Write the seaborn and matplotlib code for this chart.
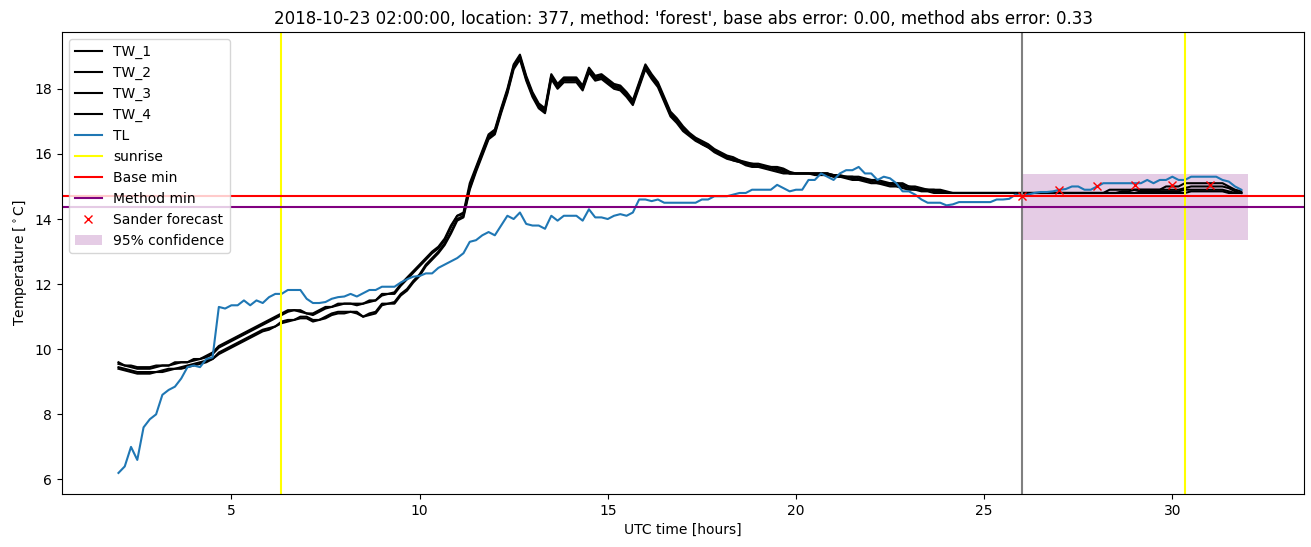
import numpy as np
import pandas as pd
import matplotlib
matplotlib.use("Agg")
import matplotlib.pyplot as plt
import seaborn as sns

# ---------------- data (10-minute samples from 02:00) ----------------
TL = [
    6.2, 6.4, 7.0, 6.6, 7.6, 7.85,
    8.0, 8.6, 8.75, 8.85, 9.1, 9.45,
    9.5, 9.45, 9.7, 9.75, 11.3, 11.25,
    11.35, 11.35, 11.5, 11.35, 11.5, 11.42,
    11.6, 11.7, 11.7, 11.82, 11.82, 11.82,
    11.55, 11.42, 11.42, 11.45, 11.55, 11.6,
    11.62, 11.7, 11.62, 11.72, 11.82, 11.82,
    11.92, 11.92, 11.92, 12.05, 12.15, 12.23,
    12.25, 12.33, 12.33, 12.5, 12.6, 12.7,
    12.8, 12.95, 13.3, 13.35, 13.5, 13.6,
    13.5, 13.8, 14.1, 14.0, 14.2, 13.85,
    13.8, 13.8, 13.7, 14.1, 13.95, 14.1,
    14.1, 14.1, 13.95, 14.3, 14.05, 14.05,
    14.0, 14.1, 14.15, 14.1, 14.2, 14.6,
    14.6, 14.55, 14.6, 14.5, 14.5, 14.5,
    14.5, 14.5, 14.5, 14.6, 14.6, 14.7,
    14.7, 14.7, 14.75, 14.8, 14.8, 14.9,
    14.9, 14.9, 14.9, 15.05, 14.95, 14.85,
    14.9, 14.9, 15.2, 15.2, 15.4, 15.3,
    15.2, 15.4, 15.5, 15.5, 15.6, 15.4,
    15.4, 15.2, 15.3, 15.25, 15.1, 14.85,
    14.85, 14.75, 14.6, 14.5, 14.5, 14.5,
    14.42, 14.45, 14.52, 14.52, 14.52, 14.52,
    14.52, 14.52, 14.6, 14.6, 14.62, 14.75,
    14.7, 14.75, 14.8, 14.83, 14.83, 14.85,
    14.9, 14.92, 15.0, 15.0, 14.9, 14.9,
    15.0, 15.1, 15.1, 15.1, 15.1, 15.1,
    15.1, 15.1, 15.2, 15.1, 15.2, 15.2,
    15.3, 15.2, 15.2, 15.3, 15.3, 15.3,
    15.3, 15.3, 15.2, 15.15, 15.0, 14.9,
]

TW_1 = [
    9.6, 9.5, 9.5, 9.45, 9.45, 9.45,
    9.5, 9.5, 9.5, 9.6, 9.6, 9.6,
    9.7, 9.7, 9.8, 9.9, 10.1, 10.2,
    10.3, 10.4, 10.5, 10.6, 10.7, 10.8,
    10.9, 11.0, 11.1, 11.2, 11.2, 11.2,
    11.1, 11.1, 11.2, 11.3, 11.3, 11.4,
    11.4, 11.4, 11.4, 11.4, 11.5, 11.5,
    11.7, 11.7, 11.75, 12.0, 12.2, 12.4,
    12.6, 12.8, 13.0, 13.15, 13.4, 13.8,
    14.1, 14.2, 15.1, 15.6, 16.1, 16.6,
    16.75, 17.4, 18.0, 18.75, 19.05, 18.4,
    17.9, 17.55, 17.4, 18.45, 18.15, 18.35,
    18.35, 18.35, 18.1, 18.65, 18.4, 18.45,
    18.3, 18.15, 18.1, 17.9, 17.65, 18.2,
    18.75, 18.45, 18.2, 17.75, 17.3, 17.1,
    16.85, 16.65, 16.5, 16.4, 16.3, 16.15,
    16.05, 15.95, 15.9, 15.8, 15.75, 15.7,
    15.7, 15.65, 15.6, 15.6, 15.55, 15.45,
    15.4, 15.4, 15.4, 15.4, 15.4, 15.4,
    15.35, 15.35, 15.3, 15.3, 15.3, 15.25,
    15.2, 15.2, 15.15, 15.1, 15.1, 15.1,
    15.0, 15.0, 14.95, 14.9, 14.9, 14.9,
    14.85, 14.8, 14.8, 14.8, 14.8, 14.8,
    14.8, 14.8, 14.8, 14.8, 14.8, 14.8,
    14.8, 14.8, 14.8, 14.8, 14.8, 14.8,
    14.8, 14.8, 14.8, 14.8, 14.8, 14.8,
    14.8, 14.8, 14.9, 14.9, 14.9, 14.9,
    14.9, 14.9, 14.9, 14.9, 14.9, 15.0,
    15.0, 15.0, 15.1, 15.1, 15.1, 15.1,
    15.1, 15.1, 15.1, 15.0, 14.9, 14.85,
]

TW_2 = [
    9.55, 9.5, 9.45, 9.4, 9.4, 9.4,
    9.45, 9.5, 9.5, 9.55, 9.6, 9.6,
    9.65, 9.7, 9.75, 9.85, 10.05, 10.15,
    10.25, 10.35, 10.45, 10.55, 10.65, 10.75,
    10.85, 10.95, 11.05, 11.15, 11.2, 11.15,
    11.1, 11.05, 11.15, 11.25, 11.3, 11.35,
    11.4, 11.4, 11.35, 11.4, 11.45, 11.5,
    11.65, 11.7, 11.7, 11.95, 12.15, 12.35,
    12.55, 12.75, 12.95, 13.1, 13.35, 13.75,
    14.1, 14.15, 15.0, 15.55, 16.05, 16.55,
    16.7, 17.35, 17.95, 18.7, 19.0, 18.35,
    17.85, 17.5, 17.35, 18.4, 18.1, 18.3,
    18.3, 18.3, 18.05, 18.6, 18.35, 18.4,
    18.25, 18.1, 18.05, 17.85, 17.6, 18.15,
    18.7, 18.4, 18.15, 17.7, 17.25, 17.05,
    16.8, 16.6, 16.45, 16.35, 16.25, 16.1,
    16.0, 15.9, 15.85, 15.8, 15.7, 15.7,
    15.65, 15.6, 15.6, 15.55, 15.5, 15.4,
    15.4, 15.4, 15.4, 15.4, 15.4, 15.4,
    15.35, 15.3, 15.3, 15.3, 15.25, 15.2,
    15.2, 15.15, 15.1, 15.1, 15.1, 15.05,
    15.0, 14.95, 14.9, 14.9, 14.9, 14.85,
    14.8, 14.8, 14.8, 14.8, 14.8, 14.8,
    14.8, 14.8, 14.8, 14.8, 14.8, 14.8,
    14.8, 14.8, 14.8, 14.8, 14.8, 14.8,
    14.8, 14.8, 14.8, 14.8, 14.8, 14.8,
    14.8, 14.8, 14.8, 14.8, 14.85, 14.85,
    14.9, 14.9, 14.9, 14.9, 14.9, 14.9,
    14.9, 14.9, 14.95, 15.0, 15.0, 15.0,
    15.0, 15.0, 15.0, 14.95, 14.85, 14.8,
]

TW_3 = [
    9.45, 9.4, 9.35, 9.3, 9.3, 9.3,
    9.3, 9.35, 9.4, 9.4, 9.45, 9.5,
    9.55, 9.6, 9.65, 9.7, 9.9, 10.0,
    10.1, 10.2, 10.3, 10.4, 10.5, 10.6,
    10.65, 10.7, 10.85, 10.9, 10.9, 11.0,
    11.0, 10.9, 10.9, 11.0, 11.1, 11.15,
    11.15, 11.15, 11.15, 11.0, 11.1, 11.15,
    11.4, 11.4, 11.45, 11.7, 11.85, 12.1,
    12.3, 12.6, 12.8, 13.0, 13.25, 13.6,
    14.0, 14.1, 14.95, 15.5, 16.0, 16.5,
    16.65, 17.3, 17.9, 18.65, 18.95, 18.3,
    17.8, 17.45, 17.3, 18.35, 18.05, 18.25,
    18.25, 18.25, 18.0, 18.55, 18.3, 18.35,
    18.2, 18.05, 18.0, 17.8, 17.55, 18.1,
    18.65, 18.35, 18.1, 17.65, 17.2, 17.0,
    16.75, 16.6, 16.45, 16.3, 16.2, 16.1,
    16.0, 15.9, 15.8, 15.75, 15.7, 15.65,
    15.6, 15.6, 15.55, 15.5, 15.45, 15.4,
    15.4, 15.4, 15.4, 15.4, 15.4, 15.4,
    15.3, 15.3, 15.3, 15.25, 15.2, 15.2,
    15.15, 15.1, 15.1, 15.05, 15.05, 15.0,
    14.95, 14.9, 14.9, 14.9, 14.85, 14.85,
    14.8, 14.8, 14.8, 14.8, 14.8, 14.8,
    14.8, 14.8, 14.8, 14.8, 14.8, 14.8,
    14.8, 14.8, 14.8, 14.8, 14.8, 14.8,
    14.8, 14.8, 14.8, 14.8, 14.8, 14.8,
    14.8, 14.8, 14.8, 14.8, 14.8, 14.8,
    14.8, 14.85, 14.85, 14.85, 14.85, 14.85,
    14.85, 14.85, 14.9, 14.9, 14.9, 14.9,
    14.9, 14.9, 14.9, 14.85, 14.8, 14.8,
]

TW_4 = [
    9.4, 9.35, 9.3, 9.25, 9.25, 9.25,
    9.3, 9.3, 9.35, 9.4, 9.4, 9.45,
    9.5, 9.55, 9.6, 9.7, 9.85, 9.95,
    10.05, 10.15, 10.25, 10.35, 10.45, 10.55,
    10.6, 10.7, 10.8, 10.85, 10.9, 10.95,
    10.95, 10.85, 10.9, 10.95, 11.05, 11.1,
    11.1, 11.15, 11.1, 11.0, 11.05, 11.1,
    11.35, 11.4, 11.4, 11.65, 11.8, 12.05,
    12.25, 12.55, 12.75, 12.95, 13.2, 13.55,
    13.95, 14.05, 14.9, 15.45, 15.95, 16.45,
    16.6, 17.25, 17.85, 18.6, 18.9, 18.25,
    17.75, 17.4, 17.25, 18.3, 18.0, 18.2,
    18.2, 18.2, 17.95, 18.5, 18.25, 18.3,
    18.15, 18.0, 17.95, 17.75, 17.5, 18.05,
    18.6, 18.3, 18.05, 17.6, 17.15, 16.95,
    16.7, 16.55, 16.4, 16.3, 16.2, 16.05,
    15.95, 15.85, 15.8, 15.75, 15.65, 15.6,
    15.6, 15.55, 15.5, 15.45, 15.4, 15.4,
    15.4, 15.4, 15.4, 15.35, 15.35, 15.35,
    15.3, 15.3, 15.25, 15.2, 15.2, 15.15,
    15.1, 15.1, 15.05, 15.0, 15.0, 14.95,
    14.9, 14.9, 14.85, 14.85, 14.8, 14.8,
    14.8, 14.8, 14.8, 14.8, 14.8, 14.8,
    14.8, 14.8, 14.8, 14.8, 14.8, 14.8,
    14.8, 14.8, 14.8, 14.8, 14.8, 14.8,
    14.8, 14.8, 14.8, 14.8, 14.8, 14.8,
    14.8, 14.8, 14.8, 14.8, 14.8, 14.8,
    14.8, 14.8, 14.8, 14.8, 14.8, 14.8,
    14.8, 14.8, 14.8, 14.85, 14.85, 14.85,
    14.85, 14.85, 14.85, 14.8, 14.8, 14.8,
]

START_HOUR = 2.0
SUNRISE = [6.33, 30.33]
FORECAST_START = 26.0
FORECAST_END = 32.0
BASE_MIN = 14.70
METHOD_MIN = 14.37
SANDER_HOURS = [26, 27, 28, 29, 30, 31]
SANDER_VALUES = [14.7, 14.9, 15.0, 15.03, 15.03, 15.03]
CONF_LOW = 13.35
CONF_HIGH = 15.37

TITLE = ("2018-10-23 02:00:00, location: 377, method: 'forest', "
         "base abs error: 0.00, method abs error: 0.33")

# ---------------- build frame ----------------
n = len(TL)
hours = START_HOUR + np.arange(n) / 6.0
df = pd.DataFrame({"hours": hours, "TW_1": TW_1[:n], "TW_2": TW_2[:n],
                   "TW_3": TW_3[:n], "TW_4": TW_4[:n], "TL": TL})

fig = plt.figure(figsize=(13.11, 5.47), dpi=100)
ax = fig.add_axes([0.0473, 0.097, 0.9474, 0.8445])

for name in ["TW_1", "TW_2", "TW_3", "TW_4"]:
    sns.lineplot(data=df, x="hours", y=name, color="black", label=name, ax=ax)
sns.lineplot(data=df, x="hours", y="TL", color="#1f77b4", label="TL", ax=ax)

for i, s in enumerate(SUNRISE):
    ax.axvline(s, color="yellow", label="sunrise" if i == 0 else None)
ax.axvline(FORECAST_START, color="grey")
ax.axhline(BASE_MIN, color="red", label="Base min")
ax.axhline(METHOD_MIN, color="purple", label="Method min")
ax.plot(SANDER_HOURS, SANDER_VALUES, "x", color="red", label="Sander forecast")
ax.fill_between([FORECAST_START, FORECAST_END], [CONF_LOW, CONF_LOW],
                [CONF_HIGH, CONF_HIGH], color="purple", alpha=0.2,
                linewidth=0, label="95% confidence")

ax.set_xlim(0.5, 33.5)
ax.set_ylim(5.555, 19.745)
ax.set_xlabel("UTC time [hours]")
ax.set_ylabel("Temperature [$^\\circ$C]")
ax.set_title(TITLE)
ax.legend(loc="upper left")

fig.savefig("out.png", dpi=100)
